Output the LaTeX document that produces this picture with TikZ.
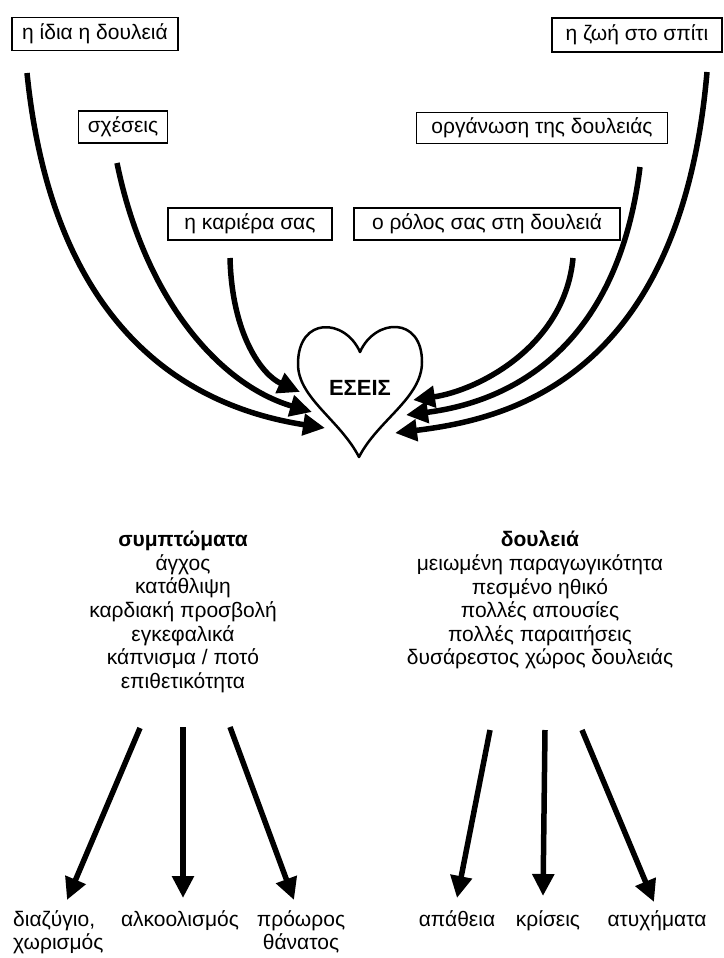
\documentclass[tikz,border=0pt]{standalone}
\usepackage{fontspec}
\setmainfont{Liberation Sans}
\usetikzlibrary{arrows.meta}
\tikzset{
  lab/.style={draw, line width=1.2pt, inner xsep=4pt, inner ysep=2pt, font=\fontsize{21}{23}\selectfont},
  bigarrow/.style={line width=5.5pt, -{Triangle[length=22pt,width=21pt]}},
  txt/.style={font=\fontsize{21}{23.6}\selectfont, align=center, inner sep=0pt},
}
\begin{document}
\begin{tikzpicture}[x=1pt,y=-1pt]
\useasboundingbox (0,0) rectangle (723,958);
\fill[white] (0,0) rectangle (723,958);
% boxes
\node[lab, minimum width=166pt, minimum height=33pt] (b1) at (95,34) {η ίδια η δουλειά};
\node[lab, minimum width=89pt, minimum height=32pt] (b2) at (123,127) {σχέσεις};
\node[lab, minimum width=164pt, minimum height=32pt] (b3) at (250,224) {η καριέρα σας};
\node[lab, minimum width=266pt, minimum height=32pt] (b4) at (487,224) {ο ρόλος σας στη δουλειά};
\node[lab, minimum width=251pt, minimum height=31pt] (b5) at (542,128) {οργάνωση της δουλειάς};
\node[lab, minimum width=170pt, minimum height=34pt] (b6) at (637,35) {η ζωή στο σπίτι};
% heart
\draw[line width=2.5pt, line join=round]
  (360,352) .. controls (345,318) and (298,316) .. (298,364)
  .. controls (298,398) and (340,420) .. (359,457)
  .. controls (378,420) and (422,398) .. (422,362)
  .. controls (422,316) and (375,318) .. (360,352) -- cycle;
\node[font=\fontsize{22}{24}\selectfont\bfseries] (you) at (360,388) {ΕΣΕΙΣ};
% arrow start/end coordinates
\coordinate (s1) at (27,73);   \coordinate (e1) at (325,428);
\coordinate (s2) at (117,163); \coordinate (e2) at (312,412);
\coordinate (s3) at (230,258); \coordinate (e3) at (300,392);
\coordinate (s4) at (707,72);  \coordinate (e4) at (395,433);
\coordinate (s5) at (640,167); \coordinate (e5) at (406,415);
\coordinate (s6) at (573,258); \coordinate (e6) at (413,400);
\draw[bigarrow] (s1) .. controls (55,350) and (210,410) .. (e1);
\draw[bigarrow] (s2) .. controls (145,300) and (220,385) .. (e2);
\draw[bigarrow] (s3) .. controls (232,335) and (262,375) .. (e3);
\draw[bigarrow] (s4) .. controls (680,385) and (500,420) .. (e4);
\draw[bigarrow] (s5) .. controls (615,370) and (485,405) .. (e5);
\draw[bigarrow] (s6) .. controls (565,345) and (480,390) .. (e6);
% text blocks
\node[txt, anchor=north] (symp) at (183,531) {\textbf{συμπτώματα}\\άγχος\\κατάθλιψη\\καρδιακή προσβολή\\εγκεφαλικά\\κάπνισμα / ποτό\\επιθετικότητα};
\node[txt, anchor=north] (work) at (540,531) {\textbf{δουλειά}\\μειωμένη παραγωγικότητα\\πεσμένο ηθικό\\πολλές απουσίες\\πολλές παραιτήσεις\\δυσάρεστος χώρος δουλειάς};
% bottom labels
\node[txt, align=left, anchor=north west] (o1) at (13,910) {διαζύγιο,\\χωρισμός};
\node[txt, anchor=north] (o2) at (180,910) {αλκοολισμός};
\node[txt, anchor=north] (o3) at (301,910) {πρόωρος\\θάνατος};
\node[txt, anchor=north] (o4) at (457,910) {απάθεια};
\node[txt, anchor=north] (o5) at (548,910) {κρίσεις};
\node[txt, anchor=north] (o6) at (657,910) {ατυχήματα};
% lower arrows
\coordinate (l1) at (140,728); \coordinate (t1) at (67,900);
\coordinate (l2) at (183,727); \coordinate (t2) at (183,898);
\coordinate (l3) at (230,727); \coordinate (t3) at (294,900);
\coordinate (l4) at (490,730); \coordinate (t4) at (457,898);
\coordinate (l5) at (545,730); \coordinate (t5) at (543,896);
\coordinate (l6) at (582,730); \coordinate (t6) at (654,902);
\foreach \a/\b in {l1/t1,l2/t2,l3/t3,l4/t4,l5/t5,l6/t6}
  \draw[bigarrow] (\a) -- (\b);
\end{tikzpicture}
\end{document}
